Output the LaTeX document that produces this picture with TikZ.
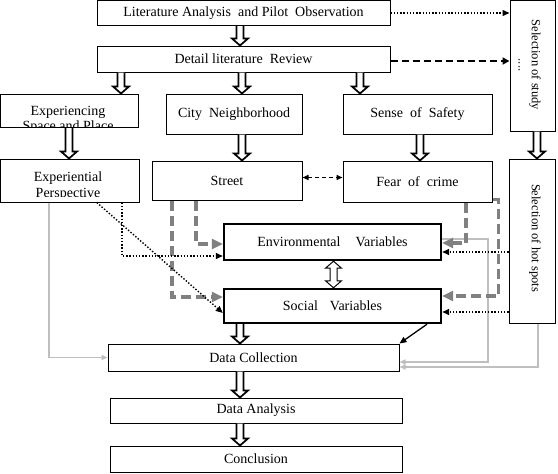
\documentclass[tikz,border=0pt]{standalone}
\usepackage{fontspec}
\setmainfont{Liberation Serif}
\usetikzlibrary{arrows.meta,calc}
\definecolor{dgray}{HTML}{808080}
\definecolor{lgray}{HTML}{BFBFBF}
\tikzset{
  box/.style={draw, line width=1pt, inner sep=0pt, align=center},
  thickbox/.style={box, line width=2.4pt},
  txt/.style={inner sep=0pt, align=center},
  vtxt/.style={inner sep=0pt, align=center, rotate=-90, font=\fontsize{12.5}{14}\selectfont},
  hollowarr/.style={draw, fill=white, line width=1.7pt, line join=miter},
  hollowthin/.style={draw, fill=white, line width=1pt, line join=miter},
  dotarr/.style={line width=1.4pt, dash pattern=on 1.4pt off 1.8pt, -{Triangle[length=7pt,width=6pt]}},
  bigdash/.style={line width=2.6pt, dash pattern=on 7pt off 4pt, -{Triangle[length=7pt,width=7pt]}},
  smalldash/.style={line width=1.4pt, dash pattern=on 4pt off 3pt, {Triangle[length=6pt,width=5pt]}-{Triangle[length=6pt,width=5pt]}},
  gdash/.style={draw=dgray, line width=3.6pt, dash pattern=on 10pt off 5pt, -{Triangle[length=11pt,width=10pt]}},
  lline/.style={draw=lgray, line width=1.6pt, -{Triangle[length=6pt,width=5pt]}},
  solarr/.style={line width=1.3pt, -{Triangle[length=7pt,width=6pt]}}
}
\newcommand\hollowdown[2]{%
  \draw[hollowarr] let \p1=(#1), \p2=(#2) in
    (\x1-3.5pt,\y1) -- (\x1-3.5pt,\y2+7pt) -- (\x1-8pt,\y2+7pt) -- (\x1,\y2)
    -- (\x1+8pt,\y2+7pt) -- (\x1+3.5pt,\y2+7pt) -- (\x1+3.5pt,\y1);}
\newcommand\hollowboth[2]{%
  \draw[hollowthin] let \p1=(#1), \p2=(#2) in
    (\x1,\y1) -- (\x1+8pt,\y1-7pt) -- (\x1+3.5pt,\y1-7pt) -- (\x1+3.5pt,\y2+7pt)
    -- (\x1+8pt,\y2+7pt) -- (\x1,\y2) -- (\x1-8pt,\y2+7pt) -- (\x1-3.5pt,\y2+7pt)
    -- (\x1-3.5pt,\y1-7pt) -- (\x1-8pt,\y1-7pt) -- cycle;}
\begin{document}
\begin{tikzpicture}[x=1pt, y=-1pt, font=\fontsize{14}{16}\selectfont]
\useasboundingbox (0,0) rectangle (558,474);
% boxes
\node[box, minimum width=293pt, minimum height=25pt] (lit) at (243.5,13) {Literature Analysis\ \ and Pilot\ \ Observation};
\node[box, minimum width=293pt, minimum height=26pt] (det) at (243.5,59) {Detail literature\ \ Review};
\node[box, minimum width=137.4pt, minimum height=33.5pt] (exp1) at (69.3,110.75) {};
\node[box, minimum width=136pt, minimum height=40pt] (city) at (234,114) {City\ \ Neighborhood};
\node[box, minimum width=149pt, minimum height=40pt] (safe) at (417.5,114) {Sense\ \ of\ \ Safety};
\node[box, minimum width=45pt, minimum height=130.5pt] (study) at (532.5,65.75) {};
\node[box, minimum width=138.4pt, minimum height=43pt] (exp2) at (69.8,180.5) {};
\node[box, minimum width=150pt, minimum height=39pt] (street) at (227,180.5) {Street};
\node[box, minimum width=149pt, minimum height=41pt] (fear) at (417.5,181.5) {Fear\ \ of\ \ crime};
\node[box, minimum width=46pt, minimum height=164pt] (hot) at (532,241) {};
\node[thickbox, minimum width=217pt, minimum height=36pt] (env) at (332.5,242) {Environmental\hspace{15pt}Variables};
\node[thickbox, minimum width=217pt, minimum height=34pt] (soc) at (332.5,306) {Social\hspace{12pt}Variables};
\node[box, minimum width=291pt, minimum height=27pt] (dc) at (253.5,357.5) {Data Collection};
\node[box, minimum width=292pt, minimum height=25pt] (da) at (256,410.5) {Data Analysis};
\node[box, minimum width=292pt, minimum height=26pt] (conc) at (256,459) {Conclusion};
% texts in boxes
\begin{scope}
  \clip (1,95) rectangle (137,127.3);
  \node[txt, anchor=base] (t1a) at (68,115) {Experiencing};
  \node[txt, anchor=base] (t1b) at (68,130.5) {Space and Place};
\end{scope}
\begin{scope}
  \clip (1,160) rectangle (138,196);
  \node[txt, anchor=base] (t2a) at (68,181) {Experiential};
  \node[txt, anchor=base] (t2b) at (68,197.5) {Perspective};
\end{scope}
\node[vtxt] (t3a) at (535,65) {Selection of study};
\node[vtxt, anchor=base] (t3b) at (518.5,65) {....};
\node[vtxt] (t4) at (535,238) {Selection of hot spots};
% hollow arrows
\hollowdown{240,0 |- lit.south}{240,0 |- det.north}
\hollowdown{121,0 |- det.south}{121,0 |- exp1.north}
\hollowdown{242,0 |- det.south}{242,0 |- city.north}
\hollowdown{360,0 |- det.south}{360,0 |- safe.north}
\hollowdown{69,0 |- exp1.south}{69,0 |- exp2.north}
\hollowdown{242,0 |- city.south}{242,0 |- street.north}
\hollowdown{420,0 |- safe.south}{420,0 |- fear.north}
\hollowdown{537,0 |- study.south}{537,0 |- hot.north}
\hollowboth{333.5,0 |- env.south}{333.5,0 |- soc.north}
\hollowdown{240,0 |- soc.south}{240,0 |- dc.north}
\hollowdown{240,0 |- dc.south}{240,0 |- da.north}
\hollowdown{240,0 |- da.south}{240,0 |- conc.north}
% top right connectors
\draw[dotarr] (lit.east) -- (lit.east -| study.west);
\draw[bigdash] ([yshift=-2pt]det.east) -- ([yshift=-2pt]det.east -| study.west);
\draw[smalldash] ([yshift=3pt]street.east) -- ([yshift=3pt]street.east -| fear.west);
% helper coordinates
\coordinate (eA) at ([yshift=-14pt]env.west);
\coordinate (eB) at ([yshift=-10pt]env.east);
\coordinate (sA) at ([yshift=-6pt]soc.east);
% light gray lines
\draw[lline] (49,0 |- exp2.south) |- (dc.west);
\draw[lline] ([yshift=3pt]env.east) -- ++(46,0) |- ([yshift=-4.5pt]dc.east);
\draw[lline] ([xshift=6pt]hot.south) |- ([yshift=-9.5pt]dc.east);
% gray dashed
\draw[gdash] (172,0 |- street.south) |- ([yshift=9pt]soc.west);
\draw[gdash] (196,0 |- street.south) |- ([yshift=-2pt]env.west);
\draw[gdash] (466,0 |- fear.south) |- ([yshift=-1pt]env.east);
\draw[gdash] ([yshift=3pt]fear.south east) -- ++(6,0) |- ([yshift=10pt]soc.east);
% dotted black
\draw[dotarr] (122,0 |- exp2.south) |- (eA);
\draw[dotarr] ([xshift=27pt]exp2.south) -- ([yshift=-7pt]soc.west);
\draw[dotarr] (hot.west |- eB) -- (eB);
\draw[dotarr] (hot.west |- sA) -- (sA);
% solid black
\draw[solarr] (427,0 |- soc.south) -- (dc.north east);
\end{tikzpicture}
\end{document}
